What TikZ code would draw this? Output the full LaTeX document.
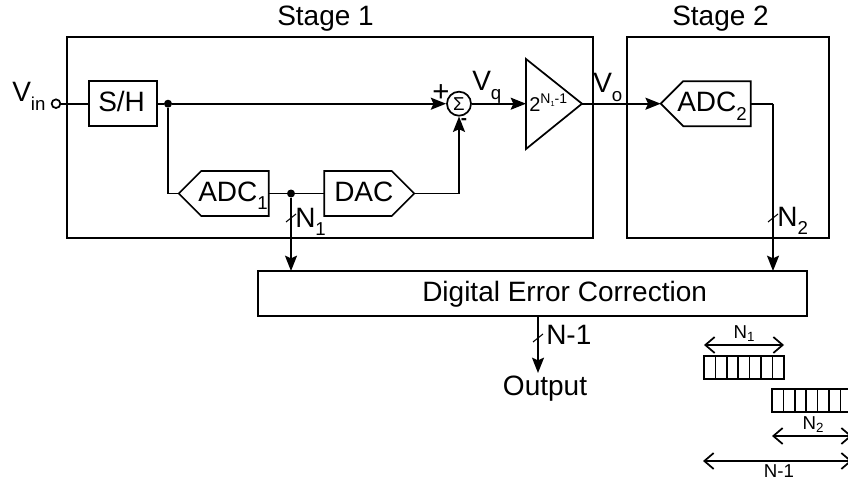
\documentclass[tikz,border=0pt]{standalone}
\usepackage{fontspec}
\setmainfont{Liberation Sans}
\usetikzlibrary{arrows.meta,shapes.symbols}
\newcommand{\labelsize}{\fontsize{21}{24}\selectfont}
\newcommand{\tinysize}{\fontsize{14}{16}\selectfont}
\newcommand{\lowtext}[1]{\raisebox{-0.3em}{\fontsize{14}{16}\selectfont #1}}
\newcommand{\tinylow}[1]{\raisebox{-0.2em}{\fontsize{10}{12}\selectfont #1}}
\tikzset{
  blockLine/.style={draw=black, line width=1.3pt},
  blockBox/.style={blockLine, fill=white, rectangle, inner sep=0pt, outer sep=0pt},
  stageBox/.style={blockLine, rectangle, minimum width=#1, minimum height=150.75pt, inner sep=0pt, outer sep=0pt},
  adcBox/.style={blockLine, fill=white, signal, signal pointer angle=90, minimum width=67.5pt, minimum height=33.75pt, inner sep=0pt, outer sep=0pt},
  junction/.style={circle, fill=black, inner sep=0pt, minimum size=6pt},
  bigText/.style={font=\labelsize, inner sep=0pt, anchor=base west},
  smallText/.style={font=\tinysize, inner sep=0pt, anchor=base},
  flowArrow/.style={blockLine, -{Stealth[length=11.5pt, width=9pt, inset=2pt]}},
  spanArrow/.style={line width=1.3pt, {Straight Barb[length=7pt, width=12pt]}-{Straight Barb[length=7pt, width=12pt]}},
  busSlash/.style={line width=0.8pt}
}
\begin{document}
\begin{tikzpicture}[x=0.75pt, y=-0.75pt]
  \useasboundingbox (0,0) rectangle (848,481);
  \clip (0,0) rectangle (848,481);

  \node[stageBox=394.5pt] (stage1) at (330,137.5) {};
  \node[stageBox=151.5pt] (stage2) at (728,137.5) {};
  \node[bigText] (stage1Label) at (277,26) {Stage 1};
  \node[bigText] (stage2Label) at (672,26) {Stage 2};

  \node[circle, blockLine, fill=white, inner sep=0pt, minimum size=6.5pt] (vin) at (56,103.7) {};
  \node[bigText] (vinLabel) at (12,102) {V\lowtext{in}};
  \node[blockBox, minimum width=51pt, minimum height=33.75pt] (sh) at (123,103.7) {};
  \node[bigText] (shLabel) at (98,112) {S/H};
  \node[junction] (shDot) at (168,103.7) {};

  \node[adcBox, signal to=west] (adc1) at (235,193.5) {};
  \node[bigText] (adc1Label) at (198,201) {ADC\lowtext{1}};
  \node[junction] (adcDot) at (291,193.5) {};
  \node[adcBox, signal to=east] (dac) at (358,193.5) {};
  \node[bigText] (dacLabel) at (334,201) {DAC};

  \node[circle, blockLine, fill=white, inner sep=0pt, minimum size=18pt] (sum) at (459,103.7) {};
  \node[inner sep=0pt, font=\fontsize{14}{14}\selectfont] (sigma) at (459,103.7) {Σ};
  \node[inner sep=0pt, font=\fontsize{22}{22}\selectfont] (plus) at (441,93) {+};
  \node[inner sep=0pt, font=\fontsize{14}{14}\selectfont\bfseries] (minus) at (464,121.5) {-};
  \node[bigText] (vqLabel) at (472,91) {V\lowtext{q}};

  \coordinate (ampTop) at (526,59);
  \coordinate (ampBottom) at (526,149);
  \coordinate (ampTip) at (582,103.7);
  \draw[blockLine, fill=white] (ampTop) -- (ampTip) -- (ampBottom) -- cycle;
  \node[inner sep=0pt, anchor=base west, font=\fontsize{15}{16}\selectfont] (ampGain) at (529,112)
    {2\raisebox{0.4em}{\fontsize{10.5}{12}\selectfont N\raisebox{-0.15em}{\fontsize{5.5}{6}\selectfont 1}-1}};
  \node[bigText] (voLabel) at (593,93) {V\lowtext{o}};

  \node[adcBox, signal to=west] (adc2) at (717,103.7) {};
  \node[bigText] (adc2Label) at (677,112) {ADC\lowtext{2}};
  \coordinate (adc2Corner) at (773,103.7);

  \node[blockBox, minimum width=411.75pt, minimum height=33.75pt] (dec) at (532.5,293.5) {};
  \node[bigText] (decLabel) at (422,301) {Digital Error Correction};
  \node[bigText, anchor=base] (outLabel) at (545,395) {Output};
  \coordinate (outTip) at (538,373);

  \draw[blockLine] (vin) -- (sh);
  \draw[blockLine] (sh) -- (shDot);
  \draw[flowArrow] (shDot) -- (sum);
  \draw[blockLine] (shDot) |- (adc1.west);
  \draw[blockLine] (adc1.east) -- (adcDot) -- (dac.west);
  \draw[flowArrow] (dac.east) -| (sum.south);
  \draw[flowArrow] (sum) -- (ampTop |- sum);
  \draw[flowArrow] (ampTip) -- (adc2.west);
  \draw[blockLine] (adc2.east) -- (adc2Corner);
  \draw[flowArrow] (adc2Corner) -- (adc2Corner |- dec.north);
  \draw[flowArrow] (adcDot) -- (adcDot |- dec.north);
  \draw[flowArrow] (dec.south -| outTip) -- (outTip);

  % bus widths
  \foreach \x/\y in {291/218, 773/218, 538/338}
    \draw[busSlash] (\x-5,\y+4) -- (\x+5,\y-4);
  \node[bigText] (n1Label) at (295,227) {N\lowtext{1}};
  \node[bigText] (n2Label) at (777,226) {N\lowtext{2}};
  \node[bigText] (nLabel) at (546,344) {N-1};

  % bit alignment
  \foreach \i in {0,...,6} {
    \draw[blockLine] (704+\i*11.4,356) rectangle (715.4+\i*11.4,379);
    \draw[blockLine] (772+\i*11.4,389) rectangle (783.4+\i*11.4,412);
  }
  \coordinate (spanA) at (704,345);
  \coordinate (spanB) at (784,345);
  \coordinate (spanC) at (772,436);
  \coordinate (spanD) at (852,436);
  \coordinate (spanE) at (703,461);
  \coordinate (spanF) at (852,461);
  \draw[spanArrow] (spanA) -- (spanB);
  \draw[spanArrow] (spanC) -- (spanD);
  \draw[spanArrow] (spanE) -- (spanF);
  \node[smallText] (n1Small) at (744,338) {N\tinylow{1}};
  \node[smallText] (n2Small) at (813,429) {N\tinylow{2}};
  \node[smallText] (nSmall) at (779,477) {N-1};
\end{tikzpicture}
\end{document}
